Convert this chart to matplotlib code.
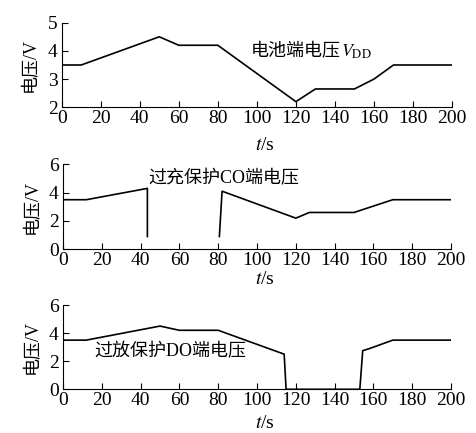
import numpy as np
import matplotlib.pyplot as plt

plt.rcParams['font.family'] = ['Liberation Serif', 'Noto Sans CJK SC']
plt.rcParams['mathtext.fontset'] = 'stix'

# battery voltage VDD
t1 = [0, 10, 50, 60, 80, 120, 130, 150, 160, 170, 200]
v1 = [3.5, 3.5, 4.5, 4.2, 4.2, 2.2, 2.65, 2.65, 3.0, 3.5, 3.5]

# CO pin voltage (gap while protection active)
t2 = [0, 12, 43.5, 43.5, 43.6, 80.5, 80.6, 82, 120, 127, 150, 170, 200]
v2 = [3.5, 3.5, 4.3, 0.9, np.nan, np.nan, 0.9, 4.1, 2.2, 2.6, 2.6, 3.5, 3.5]

# DO pin voltage
t3 = [0, 12, 50, 60, 80, 114, 115, 153, 154.5, 158, 170, 200]
v3 = [3.5, 3.5, 4.5, 4.2, 4.2, 2.5, 0, 0, 2.75, 2.9, 3.5, 3.5]

xticks = list(range(0, 201, 20))

fig = plt.figure(figsize=(4.76, 4.33), dpi=100)
W, H = 476, 433
boxes = [(61.7, 22.7, 452, 107.3), (63, 164.3, 451, 249.3), (63, 305, 451, 389.3)]
axes = []
for (x0, y0, x1, y1) in boxes:
    ax = fig.add_axes([x0 / W, 1 - y1 / H, (x1 - x0) / W, (y1 - y0) / H])
    axes.append(ax)

data = [(t1, v1, (2, 5), [2, 3, 4, 5]), (t2, v2, (0, 6), [0, 2, 4, 6]), (t3, v3, (0, 6), [0, 2, 4, 6])]
xlab_y = [146, 279, 423]
for ax, (t, v, yl, yt), xly in zip(axes, data, xlab_y):
    ax.plot(t, v, color='black', lw=1.2)
    ax.set_xlim(0, 200)
    ax.set_ylim(*yl)
    ax.set_xticks(xticks)
    ax.set_yticks(yt)
    ax.spines['top'].set_visible(False)
    ax.spines['right'].set_visible(False)
    ax.tick_params(direction='in', labelsize=14, length=4)
    ax.tick_params(axis='x', pad=2)
    ax.tick_params(axis='y', pad=3)
    for lb in ax.get_yticklabels():
        lb.set_verticalalignment('center_baseline')
    ax.set_ylabel('电压/V', fontsize=13, labelpad=6)
    ax.text(265 / W, 1 - xly / H, '$t$/s', transform=fig.transFigure, ha='center', va='center',
            fontsize=14, family=['Liberation Serif'])

lab = axes[0].text(97, 3.96, '电池端电压', fontsize=13, ha='left', va='center')
axes[0].annotate('$V_{\\rm DD}$', xy=(1, 0.5), xycoords=lab, va='center', ha='left', fontsize=13)
axes[1].text(44, 5.0, '过充保护CO端电压', fontsize=13, ha='left', va='center')
axes[2].text(16, 2.65, '过放保护DO端电压', fontsize=13, ha='left', va='center')

fig.savefig('out.png', dpi=100)
